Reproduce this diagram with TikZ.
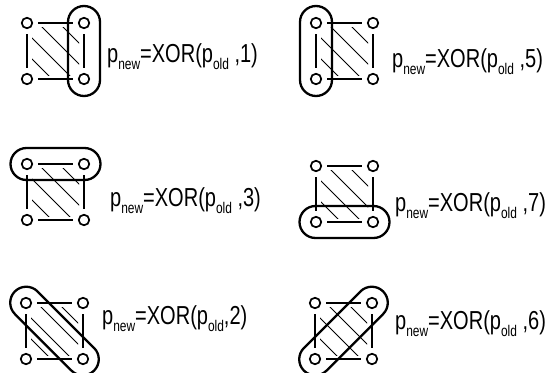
\documentclass[tikz,border=0pt]{standalone}
\usepackage{fontspec}
\setmainfont{Liberation Sans}
\usetikzlibrary{shapes.misc,calc}

\newcommand{\lowsub}[1]{\raisebox{-7pt}{\fontsize{15.5}{16}\selectfont #1}}

\begin{document}
\begin{tikzpicture}[x=1pt, y=-1pt,
  vtx/.style={circle, draw, line width=1.7pt, minimum size=10.5pt, inner sep=0pt},
  link/.style={line width=1.6pt, shorten >=5pt, shorten <=5pt},
  hatchln/.style={line width=0.9pt},
  grp/.style={rounded rectangle, draw, line width=2.3pt, minimum height=32pt, inner sep=0pt},
  lbl/.style={anchor=base west, inner sep=0pt, xscale=0.77, font=\fontsize{26}{30}\selectfont}
]
\useasboundingbox (0,0) rectangle (556,372);

% four squares of cells, hatched
\foreach \id/\x/\y in {a/27/23, b/316/23, c/27/164, d/316/166, e/26/303, f/315/303} {
  \begin{scope}
    \clip (\x+5,\y+4) rectangle (\x+52,\y+52);
    \foreach \c in {-32,-11,10,31}
      \draw[hatchln] (\x-10,\y-10+\c) -- (\x+70,\y+70+\c);
  \end{scope}
  \node[vtx] (\id1) at (\x,\y) {};
  \node[vtx] (\id2) at (\x+57,\y) {};
  \node[vtx] (\id3) at (\x,\y+56) {};
  \node[vtx] (\id4) at (\x+57,\y+56) {};
  \draw[link] (\id1) -- (\id2);
  \draw[link] (\id3) -- (\id4);
  \draw[link] (\id1) -- (\id3);
  \draw[link] (\id2) -- (\id4);
}

% groups
\node[grp, minimum width=90pt, rotate=90] (ga) at ($(a2)!0.5!(a4)$) {};
\node[grp, minimum width=90pt, rotate=90] (gb) at ($(b1)!0.5!(b3)$) {};
\node[grp, minimum width=90pt] (gc) at ($(c1)!0.5!(c2)$) {};
\node[grp, minimum width=90pt] (gd) at ($(d3)!0.5!(d4)$) {};
\node[grp, minimum width=112pt, rotate=-45] (ge) at ($(e1)!0.5!(e4)$) {};
\node[grp, minimum width=112pt, rotate=45] (gf) at ($(f3)!0.5!(f2)$) {};

% labels
\node[lbl] (ta) at (107,62) {p\lowsub{new}=XOR(p\lowsub{old} ,1)};
\node[lbl] (tb) at (392,67) {p\lowsub{new}=XOR(p\lowsub{old} ,5)};
\node[lbl] (tc) at (110,206) {p\lowsub{new}=XOR(p\lowsub{old} ,3)};
\node[lbl] (td) at (395,211) {p\lowsub{new}=XOR(p\lowsub{old} ,7)};
\node[lbl] (te) at (102,324) {p\lowsub{new}=XOR(p\lowsub{old},2)};
\node[lbl] (tf) at (395,329) {p\lowsub{new}=XOR(p\lowsub{old} ,6)};

\end{tikzpicture}
\end{document}
